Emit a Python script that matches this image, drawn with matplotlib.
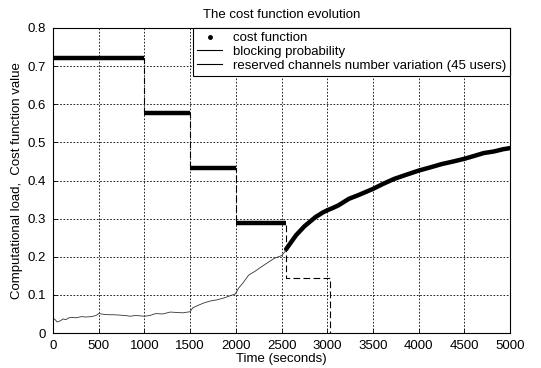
import numpy as np
from matplotlib import pyplot as plt
from matplotlib.lines import Line2D

# reserved channels (45 users), step changes
reserved_t = [0, 1000, 1500, 2000, 2550, 3030]
reserved_v = [0.72, 0.576, 0.432, 0.288, 0.144, 0.0]

# cost function while channels are being reserved (equal to the reserved level)
cost_step_start = [0, 1000, 1500, 2000]
cost_step_end = [1000, 1500, 2000, 2550]
cost_step_level = [0.72, 0.576, 0.432, 0.288]

# cost function after the last reservation change
cost_t = [2550, 2600, 2660, 2750, 2870, 2950, 3000, 3060, 3123, 3236, 3333, 3500,
          3600, 3729, 3850, 4000, 4120, 4250, 4380, 4500, 4600, 4711, 4820, 4923, 5000]
cost_v = [0.220, 0.237, 0.257, 0.280, 0.304, 0.316, 0.322, 0.328, 0.335, 0.352, 0.361, 0.378,
          0.390, 0.404, 0.414, 0.426, 0.434, 0.443, 0.450, 0.457, 0.464, 0.472, 0.476, 0.482, 0.485]

# blocking probability
block_t = [0, 20, 46, 80, 110, 140, 173, 210, 250, 313, 360, 419, 470, 500, 560, 620, 666,
           730, 790, 842, 900, 960, 1000, 1060, 1123, 1200, 1282, 1350, 1420, 1500, 1528,
           1580, 1651, 1720, 1792, 1870, 1940, 1996, 2030, 2073, 2140, 2210, 2281, 2350,
           2421, 2500, 2550]
block_v = [0.038, 0.036, 0.029, 0.032, 0.037, 0.035, 0.040, 0.041, 0.040, 0.043, 0.042, 0.043,
           0.046, 0.051, 0.049, 0.048, 0.048, 0.047, 0.046, 0.044, 0.046, 0.045, 0.044, 0.046,
           0.051, 0.050, 0.055, 0.054, 0.053, 0.056, 0.066, 0.072, 0.079, 0.084, 0.087, 0.092,
           0.098, 0.103, 0.118, 0.130, 0.152, 0.162, 0.174, 0.185, 0.196, 0.203, 0.217]

x_ticks = np.arange(0, 5001, 500)
y_ticks = [0, 0.1, 0.2, 0.3, 0.4, 0.5, 0.6, 0.7, 0.8]
y_tick_labels = ['0', '0.1', '0.2', '0.3', '0.4', '0.5', '0.6', '0.7', '0.8']

plt.rcParams['font.family'] = ['Liberation Sans', 'DejaVu Sans']
plt.rcParams['font.size'] = 9.5

fig = plt.figure(figsize=(5.41, 3.68), dpi=100)
ax = fig.add_axes([0.098, 0.095, 0.845, 0.829])

ax.hlines(cost_step_level, cost_step_start, cost_step_end, colors='black', linewidth=3.2)
ax.plot(cost_t, cost_v, color='black', linewidth=3.2, solid_capstyle='round')
ax.plot(block_t, block_v, color='#333333', linewidth=0.6)
ax.plot(reserved_t, reserved_v, color='black', linewidth=0.8, drawstyle='steps-post',
        dashes=(6, 3))

ax.set_xlim(0, 5000)
ax.set_ylim(0, 0.8)
ax.set_xticks(x_ticks)
ax.set_yticks(y_ticks)
ax.set_yticklabels(y_tick_labels)
ax.tick_params(direction='in', length=3, width=0.6, labelsize=9.5)
ax.tick_params(axis='x', pad=5)
ax.tick_params(axis='y', pad=5)
ax.grid(True, color='black', linestyle=(0, (2, 2)), linewidth=0.6)
for s in ax.spines.values():
    s.set_linewidth(0.8)

ax.set_title('The cost function evolution', fontsize=9.5, pad=7)
ax.set_xlabel('Time (seconds)', fontsize=9.5, labelpad=1)
ax.set_ylabel('Computational load,  Cost function value', fontsize=9.5, labelpad=3)

handles = [Line2D([], [], color='black', marker='.', linestyle='none', markersize=5),
           Line2D([], [], color='black', linewidth=0.8),
           Line2D([], [], color='black', linewidth=0.8)]
labels = ['cost function', 'blocking probability', 'reserved channels number variation (45 users)']
leg = ax.legend(handles, labels, loc='upper right', fontsize=9.5, frameon=True, fancybox=False,
                edgecolor='black', framealpha=1, borderaxespad=0, handlelength=1.9,
                handletextpad=0.8, labelspacing=0.12, borderpad=0.3)
leg.get_frame().set_linewidth(0.8)

fig.savefig('out.png', dpi=100)
